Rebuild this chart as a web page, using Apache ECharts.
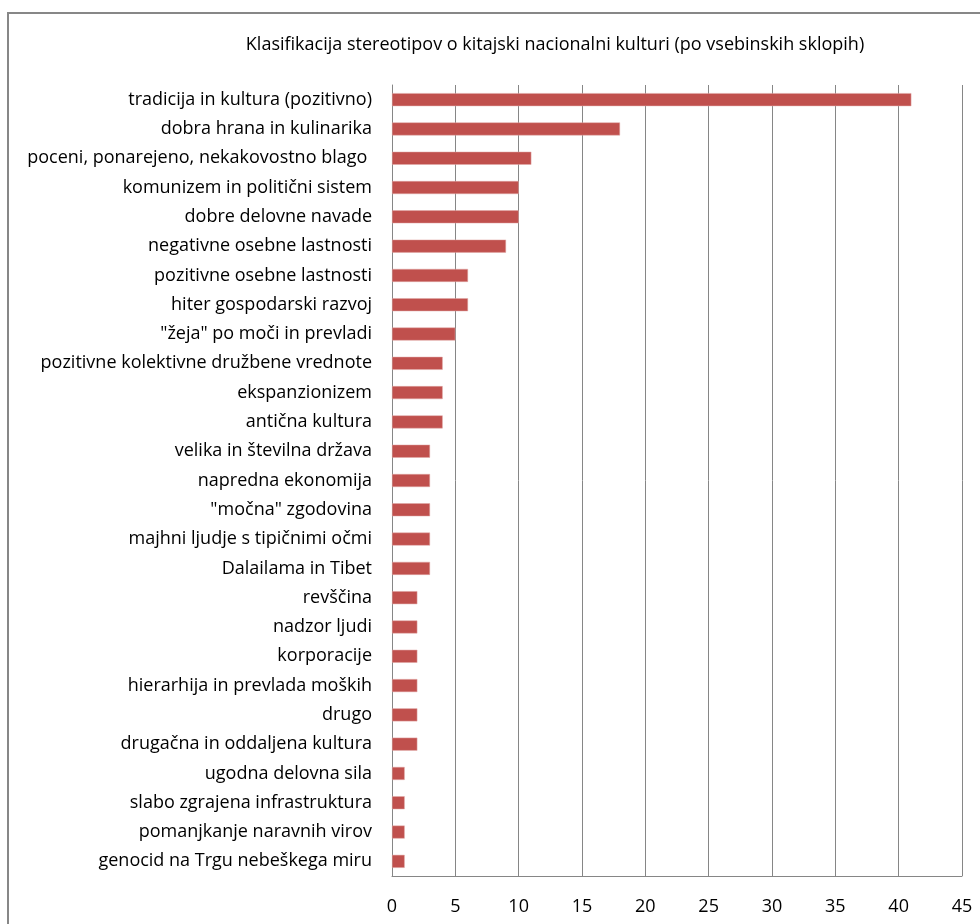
<!DOCTYPE html>
<html>
<head>
<meta charset="utf-8">
<script src="https://cdn.jsdelivr.net/npm/echarts@6/dist/echarts.min.js"></script>
<style>
  html, body { margin: 0; padding: 0; background: #fff; }
  #chart { width: 980px; height: 924px; }
</style>
</head>
<body>
<div id="chart"></div>
<script>
  // categories in display order (top to bottom)
  const categories = [
    'tradicija in kultura (pozitivno)',
    'dobra hrana in kulinarika',
    'poceni, ponarejeno, nekakovostno blago ',
    'komunizem in politični sistem',
    'dobre delovne navade',
    'negativne osebne lastnosti',
    'pozitivne osebne lastnosti',
    'hiter gospodarski razvoj',
    '"žeja" po moči in prevladi',
    'pozitivne kolektivne družbene vrednote',
    'ekspanzionizem',
    'antična kultura',
    'velika in številna država',
    'napredna ekonomija',
    '"močna" zgodovina',
    'majhni ljudje s tipičnimi očmi',
    'Dalailama in Tibet',
    'revščina',
    'nadzor ljudi',
    'korporacije',
    'hierarhija in prevlada moških',
    'drugo',
    'drugačna in oddaljena kultura',
    'ugodna delovna sila',
    'slabo zgrajena infrastruktura',
    'pomanjkanje naravnih virov',
    'genocid na Trgu nebeškega miru'
  ]
  const counts = [41, 18, 11, 10, 10, 9, 6, 6, 5, 4, 4, 4, 3, 3, 3, 3, 3, 2, 2, 2, 2, 2, 2, 1, 1, 1, 1]
  const xTicks = [0, 5, 10, 15, 20, 25, 30, 35, 40, 45]

  const font = 'Open Sans'
  const chart = echarts.init(document.getElementById('chart'))
  chart.setOption({
    animation: false,
    title: {
      text: 'Klasifikacija stereotipov o kitajski nacionalni kulturi (po vsebinskih sklopih)',
      left: 550,
      top: 31,
      textAlign: 'center',
      textStyle: { fontFamily: font, fontSize: 18, fontWeight: 'normal', color: '#000' }
    },
    graphic: [{
      type: 'rect',
      shape: { x: 8, y: 13, width: 1100, height: 1100 },
      style: { fill: 'none', stroke: '#878787', lineWidth: 2 },
      silent: true
    }],
    grid: { left: 392, right: 18, top: 85, bottom: 48 },
    xAxis: {
      type: 'value',
      min: xTicks[0],
      max: xTicks[xTicks.length - 1],
      interval: 5,
      axisLine: { show: true, lineStyle: { color: '#868686' } },
      axisTick: { show: false },
      splitLine: { lineStyle: { color: '#868686', width: 1 } },
      axisLabel: { fontFamily: font, fontSize: 18, color: '#000', margin: 22 }
    },
    yAxis: {
      type: 'category',
      inverse: true,
      data: categories,
      axisLine: { show: true, lineStyle: { color: '#868686' } },
      axisTick: { show: false },
      axisLabel: { fontFamily: font, fontSize: 18, color: '#000', margin: 20 }
    },
    series: [{
      type: 'bar',
      data: counts,
      barWidth: 13,
      itemStyle: { color: '#C0504D', borderColor: '#E0A8A6', borderWidth: 0.5 }
    }]
  })
</script>
</body>
</html>
